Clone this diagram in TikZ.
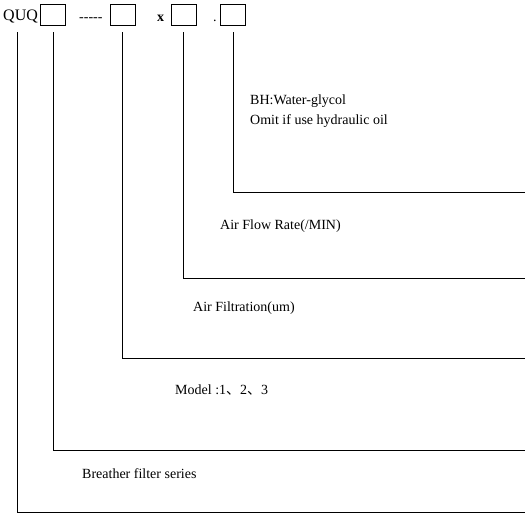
\documentclass[tikz,border=0pt]{standalone}
\usepackage{fontspec}
\setmainfont{Liberation Serif}
\newfontfamily\cjk{Noto Sans CJK SC}
\begin{document}
\begin{tikzpicture}[x=1pt,y=-1pt,
  every node/.style={font=\fontsize{14}{16}\selectfont, inner sep=0pt},
  codebox/.style={draw, line width=0.8pt, minimum width=25pt, minimum height=21pt},
  lbl/.style={anchor=base west},
  lead/.style={line width=0.8pt}]
\useasboundingbox (0,0) rectangle (525,525);
\node[lbl, font=\fontsize{16}{18}\selectfont] (quq) at (3,20) {QUQ};
\node[codebox] (b1) at (53,14.5) {};
\node[lbl] (dash) at (79,21) {{-}{-}{-}{-}{-}};
\node[codebox] (b2) at (122.5,14.5) {};
\node[lbl] (xx) at (157,21) {\textbf{x}};
\node[codebox] (b3) at (183.5,14.5) {};
\node[lbl] (dot) at (213,21) {.};
\node[codebox] (b4) at (233,14.5) {};

\coordinate (s0) at (17,32);
\coordinate (e0) at (525,512);
\coordinate (s1) at (53,32);
\coordinate (e1) at (525,450);
\coordinate (s2) at (122,32);
\coordinate (e2) at (525,358);
\coordinate (s3) at (183,32);
\coordinate (e3) at (525,278);
\coordinate (s4) at (233,32);
\coordinate (e4) at (525,192);

\draw[lead] (s0) |- (e0);
\draw[lead] (s1) |- (e1);
\draw[lead] (s2) |- (e2);
\draw[lead] (s3) |- (e3);
\draw[lead] (s4) |- (e4);

\node[lbl] (t1) at (250,104) {BH:Water-glycol};
\node[lbl] (t2) at (250,124) {Omit if use hydraulic oil};
\node[lbl] (t3) at (220,229) {Air Flow Rate(/MIN)};
\node[lbl] (t4) at (193,311) {Air Filtration(um)};
\node[lbl] (t5) at (175,394) {Model :1{\cjk 、}2{\cjk 、}3};
\node[lbl] (t6) at (82,478) {Breather filter series};
\end{tikzpicture}
\end{document}
